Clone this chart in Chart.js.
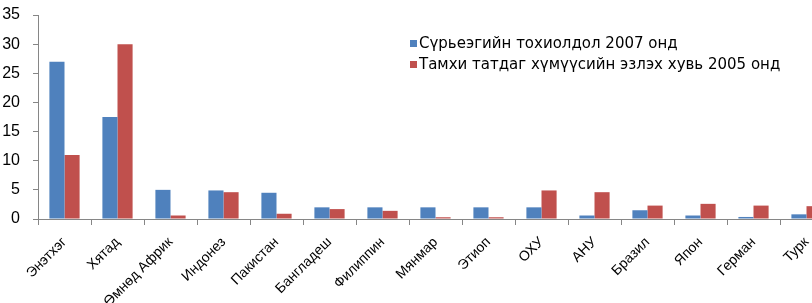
<!DOCTYPE html>
<html>
<head>
<meta charset="utf-8">
<script src="https://cdn.jsdelivr.net/npm/chart.js@4.4.1/dist/chart.umd.min.js"></script>
<style>
  html, body { margin: 0; padding: 0; background: #fff; overflow: hidden; }
  #wrap { width: 812px; height: 303px; overflow: hidden; position: relative; }
  #chart { position: absolute; left: 0; top: 0; }
</style>
</head>
<body>
<div id="wrap"><canvas id="chart" width="850" height="303"></canvas></div>
<script>
const countries = ['Энэтхэг', 'Хятад', 'Өмнөд Африк', 'Индонез', 'Пакистан', 'Бангладеш', 'Филиппин',
  'Мянмар', 'Этиоп', 'ОХУ', 'АНУ', 'Бразил', 'Япон', 'Герман', 'Турк'];
const tbCases2007 = [27, 17.5, 5, 4.9, 4.5, 2, 2, 2, 2, 2, 0.6, 1.5, 0.6, 0.35, 0.8];
const smokers2005 = [11, 30, 0.6, 4.6, 0.9, 1.7, 1.4, 0.3, 0.3, 4.9, 4.6, 2.3, 2.6, 2.3, 2.2];
const seriesNames = ['Сүрьеэгийн тохиолдол 2007 онд', 'Тамхи татдаг хүмүүсийн эзлэх хувь 2005 онд'];
const yTicks = [0, 5, 10, 15, 20, 25, 30, 35];

const axisColor = '#868686';

// legend drawn inside the plot, Excel style
const insideLegend = {
  id: 'insideLegend',
  afterDraw(chart) {
    const ctx = chart.ctx;
    ctx.save();
    ctx.font = '15px "DejaVu Sans", Verdana, sans-serif';
    ctx.textBaseline = 'middle';
    chart.data.datasets.forEach((ds, i) => {
      const y = 44 + i * 21;
      ctx.fillStyle = ds.backgroundColor;
      ctx.fillRect(410, y - 4, 7, 7);
      ctx.fillStyle = '#000';
      ctx.fillText(ds.label, 419, y);
    });
    ctx.restore();
  }
};

new Chart(document.getElementById('chart'), {
  type: 'bar',
  data: {
    labels: countries,
    datasets: [
      { label: seriesNames[0], data: tbCases2007, backgroundColor: '#4F81BD' },
      { label: seriesNames[1], data: smokers2005, backgroundColor: '#C0504D' }
    ]
  },
  options: {
    responsive: false,
    animation: false,
    layout: { padding: { top: 15, right: 17, left: 0, bottom: 0 } },
    datasets: { bar: { categoryPercentage: 0.57, barPercentage: 1.0 } },
    plugins: {
      legend: { display: false },
      tooltip: { enabled: false }
    },
    scales: {
      x: {
        grid: { drawOnChartArea: false, color: axisColor, tickLength: 6, offset: true },
        border: { color: axisColor },
        ticks: {
          color: '#000',
          font: { family: '"Liberation Sans", Arial, sans-serif', size: 14 },
          maxRotation: 45, minRotation: 45, padding: 9, autoSkip: false
        },
        afterFit(scale) { scale.height = 84; }
      },
      y: {
        min: 0, max: 35,
        grid: { drawOnChartArea: false, color: axisColor, tickLength: 5 },
        border: { color: axisColor },
        afterBuildTicks(scale) { scale.ticks = yTicks.map(v => ({ value: v })); },
        ticks: {
          color: '#000',
          font: { family: '"Liberation Sans", Arial, sans-serif', size: 16 },
          padding: 13
        },
        afterFit(scale) {
          scale.width = 38;
          // keep the plot top where the layout padding puts it
          scale.paddingTop = 0;
          scale.paddingBottom = 0;
        }
      }
    }
  },
  plugins: [insideLegend]
});
</script>
</body>
</html>
